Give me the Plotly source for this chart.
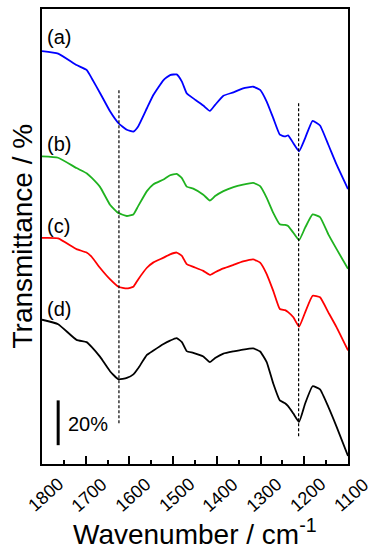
import plotly.graph_objects as go

# Wavenumber grid (cm-1)
wavenumber = [1800, 1763, 1721, 1698, 1686, 1667, 1644, 1625, 1606, 1591,
              1580, 1560, 1545, 1522, 1507, 1492, 1480, 1469, 1454, 1431,
              1416, 1404, 1385, 1362, 1340, 1317, 1301, 1286, 1271, 1256,
              1244, 1237, 1225, 1212, 1198, 1181, 1164, 1145, 1126, 1100]

# Offset transmittance (%) for the four spectra
trans_a = [184.3, 183.2, 178.1, 175.9, 172.1, 165.5, 157.3, 152.1, 149.2, 148.4,
           150.7, 158.8, 164.8, 171.4, 173.6, 173.9, 170.7, 165.5, 163.2, 160.0,
           157.6, 160.3, 164.4, 165.9, 167.7, 168.4, 167.0, 161.8, 154.4, 147.0,
           146.2, 146.7, 143.2, 139.6, 145.5, 153.2, 151.1, 142.5, 133.6, 122.7]
trans_b = [137.3, 136.7, 132.1, 129.8, 127.7, 123.6, 115.6, 112.0, 110.7, 111.4,
           115.1, 121.8, 124.9, 127.0, 128.9, 129.5, 127.6, 123.8, 122.9, 120.2,
           117.6, 119.6, 121.8, 123.6, 124.7, 125.5, 124.0, 118.8, 112.1, 107.0,
           106.7, 106.2, 103.2, 99.9, 105.5, 111.4, 110.2, 102.5, 95.9, 87.1]
trans_c = [100.9, 100.7, 95.9, 94.4, 92.4, 87.5, 82.4, 79.1, 78.4, 79.1,
           82.4, 87.6, 90.0, 92.1, 93.6, 94.4, 92.9, 89.2, 88.0, 86.2,
           84.4, 85.6, 87.3, 88.9, 90.4, 91.3, 89.9, 84.8, 77.3, 69.2,
           68.7, 67.8, 65.5, 61.3, 67.7, 75.1, 74.4, 67.7, 61.0, 50.7]
trans_d = [64.4, 62.4, 55.4, 54.4, 52.2, 47.8, 41.3, 37.8, 38.4, 40.0,
           42.7, 48.7, 50.7, 53.6, 55.1, 56.2, 54.4, 50.4, 49.6, 48.0,
           45.5, 47.3, 49.3, 50.3, 51.1, 51.6, 50.2, 45.5, 35.9, 28.4,
           27.1, 25.8, 22.5, 18.8, 27.0, 34.7, 33.3, 25.5, 16.6, 3.6]

series = [trans_a, trans_b, trans_c, trans_d]
curve_labels = ["(a)", "(b)", "(c)", "(d)"]
curve_colors = ["#0000ff", "#1fb21f", "#ff0000", "#000000"]
label_y = [190.7, 142.9, 106.2, 69.2]
label_x = 1793

# Reference dashed lines
dash_pos = [1624, 1213]
dash_top = [167.1, 161.8]
dash_bottom = [18.2, 12.4]

# Scale bar (20 %)
scale_x = 1763
scale_y = [8.4, 28.4]
scale_text = "20%"
scale_text_x = 1744
scale_text_y = 17.8

tick_vals = [1800, 1700, 1600, 1500, 1400, 1300, 1200, 1100]
tick_text = [str(v) for v in tick_vals]

FONT = "Liberation Sans, Arial, sans-serif"

fig = go.Figure()
for ys, col in zip(series, curve_colors):
    fig.add_trace(go.Scatter(x=wavenumber, y=ys, mode="lines",
                             line=dict(color=col, width=1.8, shape="spline", smoothing=0.4),
                             hoverinfo="skip", showlegend=False))

for xp, yt, yb in zip(dash_pos, dash_top, dash_bottom):
    fig.add_trace(go.Scatter(x=[xp, xp], y=[yb, yt], mode="lines",
                             line=dict(color="black", width=1.2, dash="3px,2px"),
                             hoverinfo="skip", showlegend=False))

fig.add_trace(go.Scatter(x=[scale_x, scale_x], y=scale_y, mode="lines",
                         line=dict(color="black", width=3),
                         hoverinfo="skip", showlegend=False))

annotations = []
for lab, ly in zip(curve_labels, label_y):
    annotations.append(dict(x=label_x, y=ly, xref="x", yref="y", text=lab,
                            showarrow=False, xanchor="left", yanchor="middle",
                            font=dict(size=20, color="black", family=FONT)))
annotations.append(dict(x=scale_text_x, y=scale_text_y, xref="x", yref="y", text=scale_text,
                        showarrow=False, xanchor="left", yanchor="middle",
                        font=dict(size=20, color="black", family=FONT)))
for v, t in zip(tick_vals, tick_text):
    annotations.append(dict(x=v, y=0, xref="x", yref="paper", text=t, showarrow=False,
                            xanchor="center", yanchor="middle", yshift=-31, xshift=3.5,
                            textangle=-42, font=dict(size=18, color="black", family=FONT)))
annotations.append(dict(x=0.5, y=0, xref="paper", yref="paper",
                        text="Wavenumber / cm<sup>-1</sup>", showarrow=False,
                        xanchor="center", yanchor="middle", yshift=-68,
                        font=dict(size=28, color="black", family=FONT)))
annotations.append(dict(x=0, y=0.5, xref="paper", yref="paper",
                        text="Transmittance / %", showarrow=False, textangle=-90,
                        xanchor="center", yanchor="middle", xshift=-20,
                        font=dict(size=28, color="black", family=FONT)))

fig.update_layout(
    width=377, height=550,
    margin=dict(l=42, r=29, t=7, b=86),
    paper_bgcolor="white", plot_bgcolor="white",
    annotations=annotations,
    xaxis=dict(range=[1800, 1100], showgrid=False, zeroline=False,
               showline=True, mirror=True, linecolor="black", linewidth=2,
               ticks="inside", ticklen=8, tickwidth=1.5, tickcolor="black",
               tickvals=tick_vals, showticklabels=False,
               minor=dict(dtick=50, ticks="inside", ticklen=4, tickwidth=1.5,
                          tickcolor="black", showgrid=False)),
    yaxis=dict(range=[0, 203.1], showgrid=False, zeroline=False,
               showline=True, mirror=True, linecolor="black", linewidth=2,
               ticks="", showticklabels=False),
)

fig.write_html("out.html", config={"displayModeBar": False},
               post_script="document.body.style.margin='0';document.body.style.overflow='hidden';")
